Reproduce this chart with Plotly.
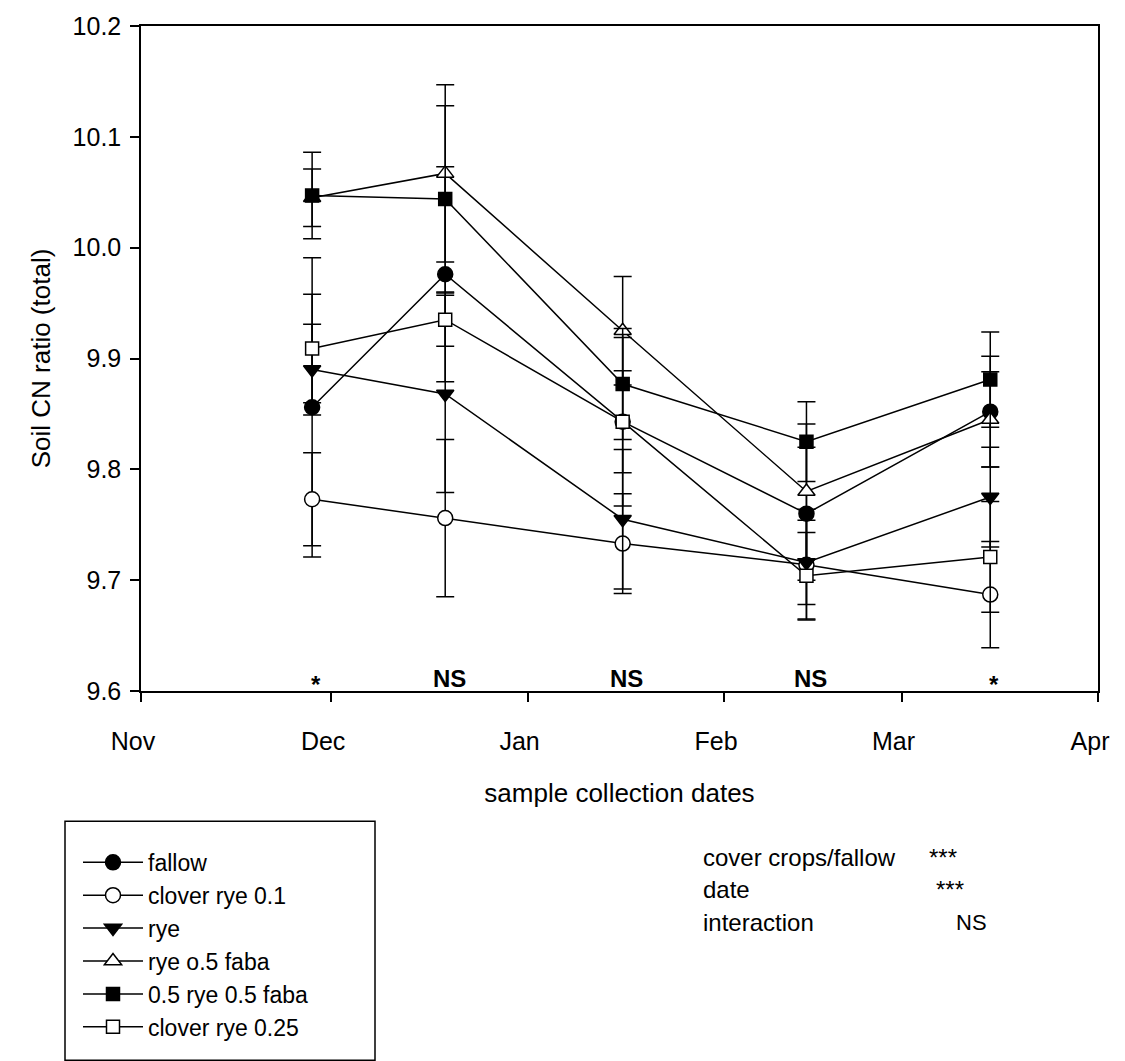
import plotly.graph_objects as go

# Sampling dates (winter season) and soil C:N ratios with standard errors
dates = ["2012-11-28", "2012-12-19", "2013-01-16", "2013-02-14", "2013-03-15"]

series_names = ["fallow", "clover rye 0.1", "rye", "rye o.5 faba",
                "0.5 rye 0.5 faba", "clover rye 0.25"]

fallow = [9.856, 9.976, 9.843, 9.760, 9.852]
fallow_err = [0.135, 0.097, 0.076, 0.060, 0.050]

clover_rye_01 = [9.773, 9.756, 9.733, 9.714, 9.687]
clover_rye_01_err = [0.042, 0.071, 0.045, 0.050, 0.048]

rye = [9.890, 9.868, 9.755, 9.716, 9.775]
rye_err = [0.041, 0.089, 0.063, 0.038, 0.045]

rye_05_faba = [10.045, 10.067, 9.925, 9.780, 9.845]
rye_05_faba_err = [0.026, 0.080, 0.049, 0.061, 0.043]

rye05_faba05 = [10.047, 10.044, 9.877, 9.825, 9.881]
rye05_faba05_err = [0.039, 0.084, 0.050, 0.036, 0.043]

clover_rye_025 = [9.909, 9.935, 9.843, 9.704, 9.721]
clover_rye_025_err = [0.049, 0.024, 0.046, 0.039, 0.050]

# significance of the treatment effect on each date
date_signif = ["*", "NS", "NS", "NS", "*"]

# month ticks
month_ticks = ["2012-11-01", "2012-12-01", "2013-01-01", "2013-02-01",
               "2013-03-01", "2013-04-01"]
month_labels = ["Nov", "Dec", "Jan", "Feb", "Mar", "Apr"]

# ANOVA summary
anova_terms = ["cover crops/fallow", "date", "interaction"]
anova_signif = ["***", "***", "NS"]

values = [fallow, clover_rye_01, rye, rye_05_faba, rye05_faba05, clover_rye_025]
errors = [fallow_err, clover_rye_01_err, rye_err, rye_05_faba_err,
          rye05_faba05_err, clover_rye_025_err]
symbols = ["circle", "circle", "triangle-down", "triangle-up", "square", "square"]
sizes = [15, 15, 15, 15, 13, 13]
fills = ["black", "white", "black", "white", "black", "white"]

FONT = "Liberation Sans, Arial, sans-serif"
W, H = 1125, 1061
ML, MR, MT, MB = 141, 27, 19, 363
PW, PH = W - ML - MR, H - MT - MB


def px_x(x):
    return (x - ML) / PW


def px_y(y):
    return (H - MB - y) / PH


fig = go.Figure()
for name, y, e, sym, sz, fc in zip(series_names, values, errors, symbols, sizes, fills):
    fig.add_trace(go.Scatter(
        x=dates, y=y, name=name, mode="lines+markers",
        line=dict(color="black", width=1.5),
        marker=dict(symbol=sym, size=sz, color=fc,
                    line=dict(color="black", width=1.5)),
        error_y=dict(type="data", array=e, visible=True, color="black",
                     thickness=1.5, width=9),
    ))

annotations = []
for d, s in zip(dates, date_signif):
    annotations.append(dict(
        x=d, y=9.611, xref="x", yref="y", text=f"<b>{s}</b>", showarrow=False,
        xshift=4, yshift=-6 if s == "*" else 0,
        font=dict(family=FONT, size=24, color="black"),
    ))

row_y = [868, 901, 934]
star_x = [943, 950, 971]
for term, sig, ry, sx in zip(anova_terms, anova_signif, row_y, star_x):
    annotations.append(dict(
        x=px_x(701), y=px_y(ry), xref="paper", yref="paper", text=term,
        xanchor="left", yanchor="middle", showarrow=False,
        font=dict(family=FONT, size=24, color="black"),
    ))
    annotations.append(dict(
        x=px_x(sx), y=px_y(ry), xref="paper", yref="paper", text=sig,
        xanchor="center", yanchor="middle", showarrow=False,
        font=dict(family=FONT, size=24 if sig == "***" else 22, color="black"),
    ))

axis_common = dict(
    showline=True, linecolor="black", linewidth=1.5, mirror=True,
    ticks="outside", ticklen=9, tickwidth=1.5, tickcolor="black",
    showgrid=False, zeroline=False,
    tickfont=dict(family=FONT, size=25, color="black"),
)

fig.update_layout(
    width=W, height=H,
    margin=dict(l=ML, r=MR, t=MT, b=MB),
    paper_bgcolor="white", plot_bgcolor="white",
    font=dict(family=FONT, color="black"),
    xaxis=dict(
        type="date", range=["2012-11-01", "2013-04-01"],
        tickvals=month_ticks, ticktext=month_labels,
        ticklabelshift=-8, ticklabelstandoff=18,
        title=dict(text="sample collection dates", standoff=30,
                   font=dict(family=FONT, size=26, color="black")),
        **axis_common,
    ),
    yaxis=dict(
        range=[9.6, 10.2], tickvals=[9.6, 9.7, 9.8, 9.9, 10.0, 10.1, 10.2],
        tickformat=".1f", ticklabelstandoff=4,
        title=dict(text="Soil CN ratio (total)", standoff=14,
                   font=dict(family=FONT, size=26, color="black")),
        **axis_common,
    ),
    showlegend=True,
    legend=dict(
        x=px_x(78), y=px_y(851), xanchor="left", yanchor="top",
        bgcolor="rgba(0,0,0,0)", borderwidth=0, traceorder="normal",
        itemwidth=60,
        font=dict(family=FONT, size=23, color="black"),
    ),
    shapes=[dict(
        type="rect", xref="paper", yref="paper",
        x0=px_x(65), x1=px_x(375), y0=px_y(831), y1=px_y(1075),
        line=dict(color="black", width=1.5), fillcolor="rgba(0,0,0,0)",
        layer="below",
    )],
    annotations=annotations,
)

fig.write_html("out.html")
